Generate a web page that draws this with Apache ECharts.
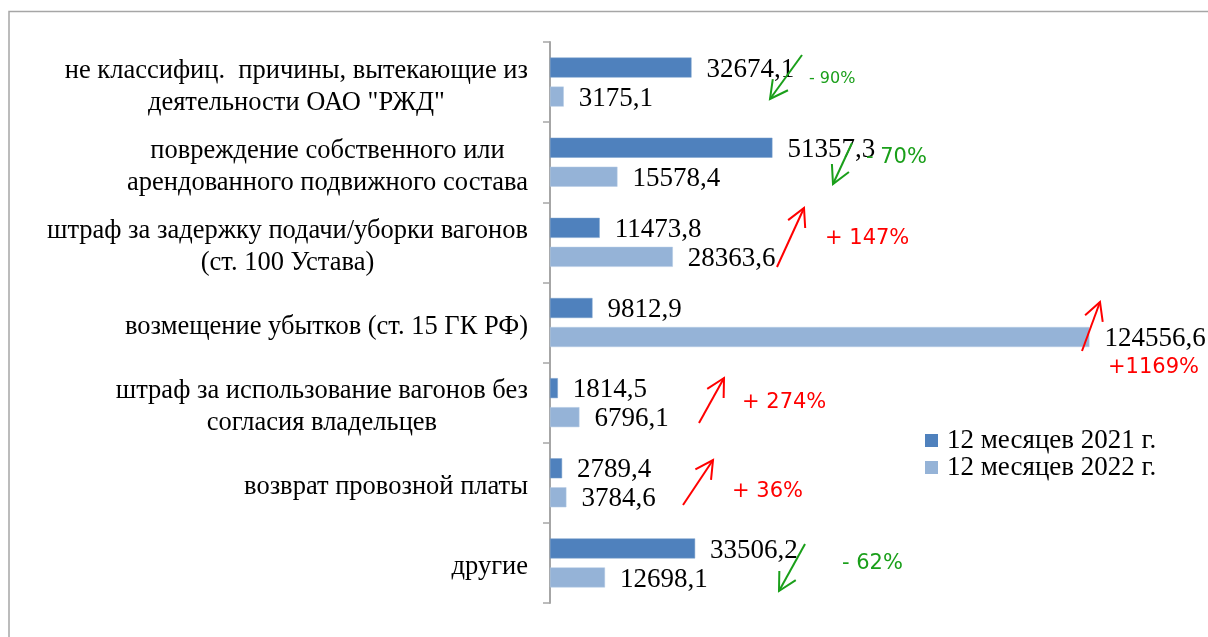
<html>
<head>
<meta charset="utf-8">
<script src="https://cdn.jsdelivr.net/npm/echarts@6/dist/echarts.min.js"></script>
<style>
  html, body { margin: 0; padding: 0; background: #fff; }
</style>
</head>
<body>
<div id="main" style="width:1208px;height:637px;"></div>
<script type="text/javascript">
// категории (сверху вниз)
var categories = [
    'не классифиц.  причины, вытекающие из\nдеятельности ОАО "РЖД"',
    'повреждение собственного или\nарендованного подвижного состава',
    'штраф за задержку подачи/уборки вагонов\n(ст. 100 Устава)',
    'возмещение убытков (ст. 15 ГК РФ)',
    'штраф за использование вагонов без\nсогласия владельцев',
    'возврат провозной платы',
    'другие'
];
var seriesNames = ['12 месяцев 2021 г.', '12 месяцев 2022 г.'];
var values2021 = [32674.1, 51357.3, 11473.8, 9812.9, 1814.5, 2789.4, 33506.2];
var values2022 = [3175.1, 15578.4, 28363.6, 124556.6, 6796.1, 3784.6, 12698.1];

// подписи изменений и стрелки (пиксели)
var changeLabels = ['- 90%', '- 70%', '+ 147%', '+1169%', '+ 274%', '+ 36%', '- 62%'];
var changeUp = [false, false, true, true, true, true, false];
var arrowPos = [
    [802, 55, 770, 99],
    [852, 143, 833, 184],
    [777, 267, 804, 208],
    [1082, 351, 1100, 302],
    [699, 423, 724, 378],
    [683, 505, 713, 460],
    [805, 544, 779, 591]
];
var labelPos = [[809, 79], [866, 158], [825, 239], [1108, 368], [742, 403], [732, 492], [842, 564]];
var labelSize = [16, 21, 21, 21, 21, 21, 21];

var serif = '"Liberation Serif", "Times New Roman", serif';

var myChart = echarts.init(document.getElementById('main'));

function fmt(v) {
    return v.toFixed(1).replace('.', ',');
}

function arrow(p, color) {
    var x1 = p[0], y1 = p[1], x2 = p[2], y2 = p[3];
    var a = Math.atan2(y1 - y2, x1 - x2);
    var len = 20, da = 28 * Math.PI / 180;
    var h1 = [x2 + len * Math.cos(a - da), y2 + len * Math.sin(a - da)];
    var h2 = [x2 + len * Math.cos(a + da), y2 + len * Math.sin(a + da)];
    return [{
        type: 'line',
        shape: {x1: x1, y1: y1, x2: x2, y2: y2},
        style: {stroke: color, lineWidth: 2},
        z: 100
    }, {
        type: 'polyline',
        shape: {points: [h1, [x2, y2], h2]},
        style: {stroke: color, lineWidth: 2, fill: null},
        z: 100
    }];
}

var graphics = [{
    type: 'polyline',
    shape: {points: [[9, 640], [9, 11.5], [1210, 11.5]]},
    style: {stroke: '#a6a6a6', lineWidth: 1.5, fill: null},
    silent: true
}];
for (var i = 0; i < changeLabels.length; i++) {
    var col = changeUp[i] ? '#ff0000' : '#1a9f1a';
    graphics = graphics.concat(arrow(arrowPos[i], col));
    graphics.push({
        type: 'text',
        x: labelPos[i][0],
        y: labelPos[i][1],
        style: {
            text: changeLabels[i],
            fill: col,
            font: labelSize[i] + 'px "DejaVu Sans"',
            textVerticalAlign: 'middle'
        },
        z: 100
    });
}

var valueLabel = {
    show: true,
    position: 'right',
    distance: 15,
    offset: [0, 2],
    color: '#000',
    fontFamily: serif,
    fontSize: 27,
    formatter: function (p) { return fmt(p.value); }
};

option = {
    animation: false,
    backgroundColor: '#fff',
    grid: {
        left: 550,
        right: 95,
        top: 42,
        bottom: 34
    },
    legend: {
        orient: 'vertical',
        left: 925,
        top: 427,
        padding: 0,
        itemWidth: 13,
        itemHeight: 13,
        itemGap: 0,
        icon: 'rect',
        itemStyle: {borderWidth: 0},
        textStyle: {
            color: '#000',
            fontFamily: serif,
            fontSize: 27,
            lineHeight: 27,
            padding: [0, 0, 0, 4]
        },
        data: seriesNames
    },
    xAxis: {
        type: 'value',
        min: 0,
        max: 130000,
        show: false
    },
    yAxis: {
        type: 'category',
        inverse: true,
        data: categories,
        axisLine: {show: true, lineStyle: {color: '#a6a6a6', width: 2}},
        axisTick: {show: true, alignWithLabel: false, length: 7, lineStyle: {color: '#a6a6a6', width: 1.5}},
        axisLabel: {
            margin: 22,
            padding: [9, 0, 0, 0],
            formatter: function (v) {
                return v.split('\n').map(function (l) { return '{c|' + l + '}'; }).join('\n');
            },
            rich: {
                c: {
                    align: 'center',
                    color: '#000',
                    fontFamily: serif,
                    fontSize: 26.5,
                    lineHeight: 32
                }
            }
        }
    },
    series: [{
        name: seriesNames[0],
        type: 'bar',
        data: values2021,
        barWidth: 20,
        barGap: '45%',
        itemStyle: {color: '#4f81bd', borderColor: '#7aa0cc', borderWidth: 0.5},
        label: valueLabel
    }, {
        name: seriesNames[1],
        type: 'bar',
        data: values2022,
        barWidth: 20,
        itemStyle: {color: '#95b3d7', borderColor: '#b5cbe5', borderWidth: 0.5},
        label: valueLabel
    }],
    graphic: graphics
};
myChart.setOption(option);
</script>
</body>
</html>
